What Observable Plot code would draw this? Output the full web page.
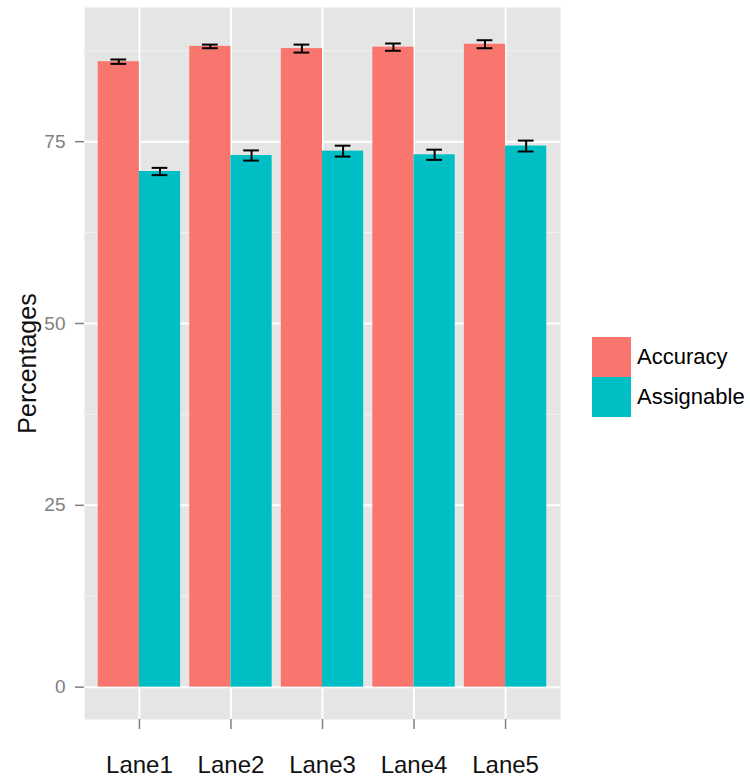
<!DOCTYPE html>
<html>
<head>
<meta charset="utf-8">
<script src="https://cdn.jsdelivr.net/npm/d3@7"></script>
<script src="https://cdn.jsdelivr.net/npm/@observablehq/plot@0.6"></script>
<style>
  body { margin: 0; background: #fff; }
  #chart { position: relative; width: 750px; height: 778px; font-family: "Liberation Sans", Arial, sans-serif; }
  #chart svg { display: block; }
  .legend { position: absolute; left: 592px; top: 337px; }
  .legend .row { display: flex; align-items: center; height: 40px; }
  .legend .key { width: 39px; height: 40px; }
  .legend .lab { margin-left: 6px; font-size: 22px; color: #000; }
</style>
</head>
<body>
<div id="chart"></div>
<script>
// Per-lane percentages with their error margins
const lanes = ["Lane1", "Lane2", "Lane3", "Lane4", "Lane5"];
const series = ["Accuracy", "Assignable"];
const accuracy = [86.0, 88.1, 87.8, 88.0, 88.4];
const accuracyErr = [0.3, 0.25, 0.55, 0.5, 0.55];
const assignable = [70.9, 73.1, 73.7, 73.2, 74.4];
const assignableErr = [0.5, 0.7, 0.75, 0.7, 0.75];
const yTicks = [0, 25, 50, 75];
const yMinor = [12.5, 37.5, 62.5, 87.5];
const colors = ["#F8766D", "#00BFC4"];

// Dodged layout: each lane occupies one unit, the two bars share 0.9 of it
const dodge = 0.9;
const barW = dodge / 2;
const capHalf = 0.086;
const lanePos = lanes.map((_, i) => i + 1);

const rows = [];
lanes.forEach((lane, i) => {
  [[accuracy, accuracyErr], [assignable, assignableErr]].forEach(([vals, errs], s) => {
    const center = lanePos[i] + (s - 0.5) * barW;
    rows.push({lane, series: series[s], value: vals[i], err: errs[i], center});
  });
});

const gray = "#7F7F7F";

const plot = Plot.plot({
  width: 750,
  height: 778,
  marginLeft: 84,
  marginRight: 190,
  marginTop: 7,
  marginBottom: 59,
  style: {fontFamily: '"Liberation Sans", Arial, sans-serif', background: "white"},
  x: {type: "linear", domain: [0.4, lanes.length + 0.6]},
  y: {domain: [-4.45, 93.45]},
  color: {domain: series, range: colors},
  marks: [
    Plot.frame({fill: "#E5E5E5", stroke: null}),
    Plot.ruleY(yMinor, {stroke: "#F2F2F2", strokeWidth: 1}),
    Plot.ruleY(yTicks, {stroke: "white", strokeWidth: 2}),
    Plot.ruleX(lanePos, {stroke: "white", strokeWidth: 2}),
    Plot.rectY(rows, {
      x1: d => d.center - barW / 2,
      x2: d => d.center + barW / 2,
      y1: 0,
      y2: "value",
      fill: "series"
    }),
    Plot.ruleX(rows, {x: "center", y1: d => d.value - d.err, y2: d => d.value + d.err, stroke: "black", strokeWidth: 2}),
    Plot.ruleY(rows, {y: d => d.value + d.err, x1: d => d.center - capHalf, x2: d => d.center + capHalf, stroke: "black", strokeWidth: 2}),
    Plot.ruleY(rows, {y: d => d.value - d.err, x1: d => d.center - capHalf, x2: d => d.center + capHalf, stroke: "black", strokeWidth: 2}),
    Plot.axisY(yTicks, {
      tickSize: 9, tickPadding: 10, stroke: gray, strokeWidth: 1.5,
      color: gray, fill: gray, fontSize: 19, label: null
    }),
    Plot.axisX(lanePos, {
      tickSize: 10, tickPadding: 26, stroke: gray, strokeWidth: 1.5,
      fill: "#111", fontSize: 24, label: null,
      tickFormat: d => lanes[d - 1]
    }),
    Plot.text(["Percentages"], {
      frameAnchor: "left", dx: -49, rotate: -90,
      lineAnchor: "bottom", textAnchor: "middle",
      fontSize: 25, fill: "#111"
    })
  ]
});

const chart = document.getElementById("chart");
chart.appendChild(plot);

// Legend for the two series
const legend = document.createElement("div");
legend.className = "legend";
series.forEach((name, i) => {
  const row = document.createElement("div");
  row.className = "row";
  const key = document.createElement("div");
  key.className = "key";
  key.style.background = colors[i];
  const lab = document.createElement("span");
  lab.className = "lab";
  lab.textContent = name;
  row.appendChild(key);
  row.appendChild(lab);
  legend.appendChild(row);
});
chart.appendChild(legend);
</script>
</body>
</html>
